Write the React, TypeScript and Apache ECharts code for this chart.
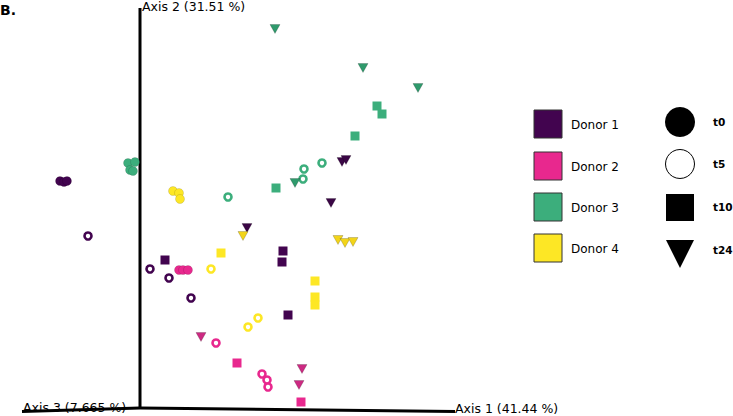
import React, { useEffect, useRef } from "react";
import * as echarts from "echarts";

// PCoA scores (Axis 1, Axis 2) per donor and time point
const donors = ["Donor 1", "Donor 2", "Donor 3", "Donor 4"];
const donorColors = ["#42044f", "#e8288e", "#3cae7c", "#fde725"];
const triColors = ["#3a0645", "#cc2a82", "#2f9a6c", "#f2d41a"];
const times = ["t0", "t5", "t10", "t24"];

const d1_t0 = [[-0.80, 2.27], [-0.76, 2.26], [-0.73, 2.27]];
const d1_t5 = [[-0.52, 1.72], [0.10, 1.39], [0.29, 1.30], [0.51, 1.10]];
const d1_t10 = [[0.25, 1.48], [1.43, 1.57], [1.42, 1.46], [1.48, 0.93]];
const d1_t24 = [[1.07, 1.80], [2.02, 2.46], [2.06, 2.48], [1.91, 2.05]];

const d2_t0 = [[0.39, 1.38], [0.43, 1.38], [0.48, 1.38]];
const d2_t5 = [[0.76, 0.65], [1.22, 0.34], [1.27, 0.28], [1.28, 0.21]];
const d2_t10 = [[0.97, 0.45], [1.61, 0.06]];
const d2_t24 = [[0.61, 0.71], [1.62, 0.39], [1.59, 0.23]];

const d3_t0 = [[-0.12, 2.45], [-0.05, 2.46], [-0.10, 2.38], [-0.07, 2.37]];
const d3_t5 = [[0.88, 2.11], [1.82, 2.45], [1.64, 2.39], [1.63, 2.29]];
const d3_t10 = [[2.37, 3.02], [2.42, 2.94], [2.15, 2.72], [1.36, 2.20]];
const d3_t24 = [[1.35, 3.79], [2.23, 3.40], [2.78, 3.20], [1.55, 2.25]];

const d4_t0 = [[0.33, 2.17], [0.39, 2.15], [0.40, 2.09]];
const d4_t5 = [[0.71, 1.39], [1.18, 0.90], [1.08, 0.81]];
const d4_t10 = [[0.81, 1.55], [1.75, 1.27], [1.75, 1.11], [1.75, 1.03]];
const d4_t24 = [[1.03, 1.72], [1.98, 1.68], [2.05, 1.65], [2.13, 1.66]];

const donorData = [
  [d1_t0, d1_t5, d1_t10, d1_t24],
  [d2_t0, d2_t5, d2_t10, d2_t24],
  [d3_t0, d3_t5, d3_t10, d3_t24],
  [d4_t0, d4_t5, d4_t10, d4_t24],
];

// Drawn axes of the 3D view (projected)
const axis2Line = [[0, 0], [0, 4.0]];
const axis1Line = [[0, 0], [3.15, -0.035]];
const axis3Line = [[0, 0], [-1.18, -0.035]];
const axisTitles = ["Axis 1 (41.44 %)", "Axis 2 (31.51 %)", "Axis 3 (7.665 %)"];

const FONT = "DejaVu Sans";

export default function App() {
  const ref = useRef<HTMLDivElement>(null);
  useEffect(() => {
    if (!ref.current) return;
    const chart = echarts.init(ref.current, null, { renderer: "svg" });

    const series: any[] = [];
    const axisLine = (data: number[][]) => ({
      type: "line",
      data,
      symbol: "none",
      silent: true,
      lineStyle: { color: "#000", width: 3 },
      z: 1,
    });
    series.push(axisLine(axis2Line), axisLine(axis1Line), axisLine(axis3Line));

    donorData.forEach((byTime, di) => {
      byTime.forEach((pts, ti) => {
        const c = donorColors[di];
        let s: any = { type: "scatter", data: pts, z: 3 };
        if (ti === 0) {
          s = { ...s, symbol: "circle", symbolSize: 9, itemStyle: { opacity: 1, color: c, borderColor: "rgba(0,0,0,0.2)", borderWidth: 0.6 } };
        } else if (ti === 1) {
          s = { ...s, symbol: "circle", symbolSize: 7, itemStyle: { opacity: 1, color: "#fff", borderColor: c, borderWidth: 2.6 } };
        } else if (ti === 2) {
          s = { ...s, symbol: "rect", symbolSize: 9, itemStyle: { opacity: 1, color: c } };
        } else {
          s = { ...s, symbol: "triangle", symbolRotate: 180, symbolSize: [10, 9], itemStyle: { opacity: 1, color: triColors[di], borderColor: "rgba(0,0,0,0.3)", borderWidth: 0.6 } };
        }
        series.push(s);
      });
    });

    const graphics: any[] = [
      { type: "text", left: 0, top: 3, style: { text: "B.", font: `bold 14px ${FONT}`, fill: "#000" } },
      { type: "text", x: 142, y: 0, style: { text: axisTitles[1], font: `12.5px ${FONT}`, fill: "#000" } },
      { type: "text", x: 455, y: 402, style: { text: axisTitles[0], font: `12.5px ${FONT}`, fill: "#000" } },
      { type: "text", x: 23, y: 401, z: 0, style: { text: axisTitles[2], font: `12.5px ${FONT}`, fill: "#000" } },
    ];
    const legendTops = [110, 152, 193, 234];
    donors.forEach((d, i) => {
      graphics.push({
        type: "rect",
        shape: { x: 534, y: legendTops[i], width: 28, height: 28 },
        style: { fill: donorColors[i], stroke: "#333", lineWidth: 1 },
      });
      graphics.push({
        type: "text",
        x: 571,
        y: legendTops[i] + 15,
        style: { text: d, font: `12px ${FONT}`, fill: "#000", textVerticalAlign: "middle" },
      });
    });
    graphics.push(
      { type: "circle", shape: { cx: 680, cy: 122, r: 15 }, style: { fill: "#000" } },
      { type: "circle", shape: { cx: 680, cy: 164, r: 14.5 }, style: { fill: "#fff", stroke: "#000", lineWidth: 1 } },
      { type: "rect", shape: { x: 666, y: 194, width: 28, height: 27 }, style: { fill: "#000" } },
      { type: "polygon", shape: { points: [[666, 240], [694, 240], [680, 268]] }, style: { fill: "#000" } }
    );
    const timeYs = [122, 164, 207, 250];
    times.forEach((t, i) => {
      graphics.push({
        type: "text",
        x: 713,
        y: timeYs[i],
        style: { text: t, font: `bold 10.5px ${FONT}`, fill: "#000", textVerticalAlign: "middle" },
      });
    });

    chart.setOption({
      animation: false,
      backgroundColor: "#fff",
      grid: { left: 0, right: 0, top: 0, bottom: 0, containLabel: false },
      xAxis: { type: "value", min: -1.4, max: 5.93, show: false },
      yAxis: { type: "value", min: -0.08, max: 4.08, show: false },
      series,
      graphic: graphics,
    });
    return () => chart.dispose();
  }, []);
  return (
    <div
      ref={ref}
      style={{ position: "fixed", left: 0, top: 0, width: 733, height: 416 }}
    />
  );
}
